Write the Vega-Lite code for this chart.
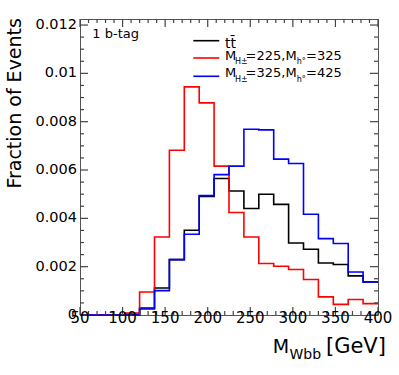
{
  "$schema": "https://vega.github.io/schema/vega-lite/v6.json",
  "width": 298,
  "height": 296,
  "autosize": {"type": "none"},
  "padding": {"left": 80, "top": 19, "right": 21, "bottom": 60},
  "config": {
    "view": {"stroke": "#555555", "strokeWidth": 1},
    "font": "DejaVu Sans",
    "text": {"font": "DejaVu Sans", "color": "#000000"}
  },
  "datasets": {
    "hist": [
      {"sample": "tt", "mass": 50, "fraction": 0},
      {"sample": "tt", "mass": 67.5, "fraction": 0},
      {"sample": "tt", "mass": 85, "fraction": 0},
      {"sample": "tt", "mass": 102.5, "fraction": 0.00003},
      {"sample": "tt", "mass": 120, "fraction": 0.00029},
      {"sample": "tt", "mass": 137.5, "fraction": 0.00112},
      {"sample": "tt", "mass": 155, "fraction": 0.00229},
      {"sample": "tt", "mass": 172.5, "fraction": 0.00351},
      {"sample": "tt", "mass": 190, "fraction": 0.00491},
      {"sample": "tt", "mass": 207.5, "fraction": 0.00565},
      {"sample": "tt", "mass": 225, "fraction": 0.00513},
      {"sample": "tt", "mass": 242.5, "fraction": 0.00441},
      {"sample": "tt", "mass": 260, "fraction": 0.005},
      {"sample": "tt", "mass": 277.5, "fraction": 0.00458},
      {"sample": "tt", "mass": 295, "fraction": 0.00298},
      {"sample": "tt", "mass": 312.5, "fraction": 0.00272},
      {"sample": "tt", "mass": 330, "fraction": 0.00215},
      {"sample": "tt", "mass": 347.5, "fraction": 0.00209},
      {"sample": "tt", "mass": 365, "fraction": 0.00162},
      {"sample": "tt", "mass": 382.5, "fraction": 0.00137},
      {"sample": "tt", "mass": 400, "fraction": 0.00137},
      {"sample": "H225_h325", "mass": 50, "fraction": 0},
      {"sample": "H225_h325", "mass": 67.5, "fraction": 0},
      {"sample": "H225_h325", "mass": 85, "fraction": 0},
      {"sample": "H225_h325", "mass": 102.5, "fraction": 0.00008},
      {"sample": "H225_h325", "mass": 120, "fraction": 0.00095},
      {"sample": "H225_h325", "mass": 137.5, "fraction": 0.00323},
      {"sample": "H225_h325", "mass": 155, "fraction": 0.00682},
      {"sample": "H225_h325", "mass": 172.5, "fraction": 0.00944},
      {"sample": "H225_h325", "mass": 190, "fraction": 0.00878},
      {"sample": "H225_h325", "mass": 207.5, "fraction": 0.00616},
      {"sample": "H225_h325", "mass": 225, "fraction": 0.00424},
      {"sample": "H225_h325", "mass": 242.5, "fraction": 0.00323},
      {"sample": "H225_h325", "mass": 260, "fraction": 0.00213},
      {"sample": "H225_h325", "mass": 277.5, "fraction": 0.00202},
      {"sample": "H225_h325", "mass": 295, "fraction": 0.00188},
      {"sample": "H225_h325", "mass": 312.5, "fraction": 0.00147},
      {"sample": "H225_h325", "mass": 330, "fraction": 0.00075},
      {"sample": "H225_h325", "mass": 347.5, "fraction": 0.00044},
      {"sample": "H225_h325", "mass": 365, "fraction": 0.00064},
      {"sample": "H225_h325", "mass": 382.5, "fraction": 0.00047},
      {"sample": "H225_h325", "mass": 400, "fraction": 0.00047},
      {"sample": "H325_h425", "mass": 50, "fraction": 0},
      {"sample": "H325_h425", "mass": 67.5, "fraction": 0},
      {"sample": "H325_h425", "mass": 85, "fraction": 0},
      {"sample": "H325_h425", "mass": 102.5, "fraction": 0},
      {"sample": "H325_h425", "mass": 120, "fraction": 0.00025},
      {"sample": "H325_h425", "mass": 137.5, "fraction": 0.00101},
      {"sample": "H325_h425", "mass": 155, "fraction": 0.00229},
      {"sample": "H325_h425", "mass": 172.5, "fraction": 0.00334},
      {"sample": "H325_h425", "mass": 190, "fraction": 0.00494},
      {"sample": "H325_h425", "mass": 207.5, "fraction": 0.00581},
      {"sample": "H325_h425", "mass": 225, "fraction": 0.00616},
      {"sample": "H325_h425", "mass": 242.5, "fraction": 0.00769},
      {"sample": "H325_h425", "mass": 260, "fraction": 0.00766},
      {"sample": "H325_h425", "mass": 277.5, "fraction": 0.00645},
      {"sample": "H325_h425", "mass": 295, "fraction": 0.00627},
      {"sample": "H325_h425", "mass": 312.5, "fraction": 0.00417},
      {"sample": "H325_h425", "mass": 330, "fraction": 0.00316},
      {"sample": "H325_h425", "mass": 347.5, "fraction": 0.00296},
      {"sample": "H325_h425", "mass": 365, "fraction": 0.00178},
      {"sample": "H325_h425", "mass": 382.5, "fraction": 0.00137},
      {"sample": "H325_h425", "mass": 400, "fraction": 0.00137}
    ],
    "xticks": [
      {"value": 50, "kind": "major"}, {"value": 60, "kind": "minor"}, {"value": 70, "kind": "minor"}, {"value": 80, "kind": "minor"}, {"value": 90, "kind": "minor"},
      {"value": 100, "kind": "major"}, {"value": 110, "kind": "minor"}, {"value": 120, "kind": "minor"}, {"value": 130, "kind": "minor"}, {"value": 140, "kind": "minor"},
      {"value": 150, "kind": "major"}, {"value": 160, "kind": "minor"}, {"value": 170, "kind": "minor"}, {"value": 180, "kind": "minor"}, {"value": 190, "kind": "minor"},
      {"value": 200, "kind": "major"}, {"value": 210, "kind": "minor"}, {"value": 220, "kind": "minor"}, {"value": 230, "kind": "minor"}, {"value": 240, "kind": "minor"},
      {"value": 250, "kind": "major"}, {"value": 260, "kind": "minor"}, {"value": 270, "kind": "minor"}, {"value": 280, "kind": "minor"}, {"value": 290, "kind": "minor"},
      {"value": 300, "kind": "major"}, {"value": 310, "kind": "minor"}, {"value": 320, "kind": "minor"}, {"value": 330, "kind": "minor"}, {"value": 340, "kind": "minor"},
      {"value": 350, "kind": "major"}, {"value": 360, "kind": "minor"}, {"value": 370, "kind": "minor"}, {"value": 380, "kind": "minor"}, {"value": 390, "kind": "minor"},
      {"value": 400, "kind": "major"}
    ],
    "yticks": [
      {"value": 0, "kind": "major"}, {"value": 0.0005, "kind": "minor"}, {"value": 0.001, "kind": "minor"}, {"value": 0.0015, "kind": "minor"},
      {"value": 0.002, "kind": "major"}, {"value": 0.0025, "kind": "minor"}, {"value": 0.003, "kind": "minor"}, {"value": 0.0035, "kind": "minor"},
      {"value": 0.004, "kind": "major"}, {"value": 0.0045, "kind": "minor"}, {"value": 0.005, "kind": "minor"}, {"value": 0.0055, "kind": "minor"},
      {"value": 0.006, "kind": "major"}, {"value": 0.0065, "kind": "minor"}, {"value": 0.007, "kind": "minor"}, {"value": 0.0075, "kind": "minor"},
      {"value": 0.008, "kind": "major"}, {"value": 0.0085, "kind": "minor"}, {"value": 0.009, "kind": "minor"}, {"value": 0.0095, "kind": "minor"},
      {"value": 0.01, "kind": "major"}, {"value": 0.0105, "kind": "minor"}, {"value": 0.011, "kind": "minor"}, {"value": 0.0115, "kind": "minor"},
      {"value": 0.012, "kind": "major"}
    ]
  },
  "data": {"name": "hist"},
  "layer": [
    {
      "mark": {"type": "line", "interpolate": "step-after", "strokeWidth": 1.6},
      "encoding": {
        "x": {"field": "mass", "type": "quantitative", "scale": {"domain": [50, 400], "nice": false, "zero": false}, "axis": null},
        "y": {"field": "fraction", "type": "quantitative", "scale": {"domain": [0, 0.01225], "nice": false, "zero": true}, "axis": null},
        "color": {
          "field": "sample", "type": "nominal",
          "scale": {"domain": ["tt", "H225_h325", "H325_h425"], "range": ["#000000", "#ff0000", "#0000ff"]},
          "legend": null
        }
      }
    },
    {
      "data": {"name": "xticks"},
      "transform": [{"filter": "datum.kind === 'major'"}],
      "mark": {"type": "tick", "orient": "vertical", "size": 8, "thickness": 1.2, "color": "#444444", "opacity": 1, "yOffset": -4},
      "encoding": {"x": {"field": "value", "type": "quantitative", "axis": null}, "y": {"datum": 0, "type": "quantitative", "axis": null}}
    },
    {
      "data": {"name": "xticks"},
      "transform": [{"filter": "datum.kind === 'minor'"}],
      "mark": {"type": "tick", "orient": "vertical", "size": 4, "thickness": 1.2, "color": "#444444", "opacity": 1, "yOffset": -2},
      "encoding": {"x": {"field": "value", "type": "quantitative", "axis": null}, "y": {"datum": 0, "type": "quantitative", "axis": null}}
    },
    {
      "data": {"name": "xticks"},
      "transform": [{"filter": "datum.kind === 'major'"}],
      "mark": {"type": "tick", "orient": "vertical", "size": 8, "thickness": 1.2, "color": "#444444", "opacity": 1, "yOffset": 4},
      "encoding": {"x": {"field": "value", "type": "quantitative", "axis": null}, "y": {"datum": 0.01225, "type": "quantitative", "axis": null}}
    },
    {
      "data": {"name": "xticks"},
      "transform": [{"filter": "datum.kind === 'minor'"}],
      "mark": {"type": "tick", "orient": "vertical", "size": 4, "thickness": 1.2, "color": "#444444", "opacity": 1, "yOffset": 2},
      "encoding": {"x": {"field": "value", "type": "quantitative", "axis": null}, "y": {"datum": 0.01225, "type": "quantitative", "axis": null}}
    },
    {
      "data": {"name": "yticks"},
      "transform": [{"filter": "datum.kind === 'major'"}],
      "mark": {"type": "tick", "orient": "horizontal", "size": 8, "thickness": 1.2, "color": "#444444", "opacity": 1, "xOffset": 4},
      "encoding": {"y": {"field": "value", "type": "quantitative", "axis": null}, "x": {"datum": 50, "type": "quantitative", "axis": null}}
    },
    {
      "data": {"name": "yticks"},
      "transform": [{"filter": "datum.kind === 'minor'"}],
      "mark": {"type": "tick", "orient": "horizontal", "size": 4, "thickness": 1.2, "color": "#444444", "opacity": 1, "xOffset": 2},
      "encoding": {"y": {"field": "value", "type": "quantitative", "axis": null}, "x": {"datum": 50, "type": "quantitative", "axis": null}}
    },
    {
      "data": {"name": "yticks"},
      "transform": [{"filter": "datum.kind === 'major'"}],
      "mark": {"type": "tick", "orient": "horizontal", "size": 8, "thickness": 1.2, "color": "#444444", "opacity": 1, "xOffset": -4},
      "encoding": {"y": {"field": "value", "type": "quantitative", "axis": null}, "x": {"datum": 400, "type": "quantitative", "axis": null}}
    },
    {
      "data": {"name": "yticks"},
      "transform": [{"filter": "datum.kind === 'minor'"}],
      "mark": {"type": "tick", "orient": "horizontal", "size": 4, "thickness": 1.2, "color": "#444444", "opacity": 1, "xOffset": -2},
      "encoding": {"y": {"field": "value", "type": "quantitative", "axis": null}, "x": {"datum": 400, "type": "quantitative", "axis": null}}
    },
    {
      "data": {"name": "xticks"},
      "transform": [{"filter": "datum.kind === 'major'"}],
      "mark": {"type": "text", "align": "center", "baseline": "top", "fontSize": 15, "dy": -4, "color": "#000000"},
      "encoding": {
        "x": {"field": "value", "type": "quantitative", "axis": null},
        "y": {"datum": 0, "type": "quantitative", "axis": null},
        "text": {"field": "value", "type": "quantitative", "format": "~g"}
      }
    },
    {
      "data": {"name": "yticks"},
      "transform": [{"filter": "datum.kind === 'major'"}],
      "mark": {"type": "text", "align": "right", "baseline": "middle", "fontSize": 14.5, "dx": -3, "color": "#000000"},
      "encoding": {
        "y": {"field": "value", "type": "quantitative", "axis": null},
        "x": {"datum": 50, "type": "quantitative", "axis": null},
        "text": {"field": "value", "type": "quantitative", "format": "~g"}
      }
    },
    {
      "data": {"values": [{}]},
      "mark": {"type": "text", "text": "Fraction of Events", "angle": 270, "align": "right", "baseline": "alphabetic", "fontSize": 19},
      "encoding": {"x": {"datum": -19.3, "type": "quantitative", "axis": null}, "y": {"datum": 0.01229, "type": "quantitative", "axis": null}}
    },
    {
      "data": {"values": [{}]},
      "mark": {"type": "text", "text": "1 b-tag", "align": "left", "baseline": "alphabetic", "fontSize": 13},
      "encoding": {"x": {"datum": 64.45, "type": "quantitative", "axis": null}, "y": {"datum": 0.011443, "type": "quantitative", "axis": null}}
    },
    {
      "data": {"values": [{}]},
      "mark": {"type": "rule", "strokeWidth": 1.6, "color": "#000000"},
      "encoding": {"x": {"datum": 183.07, "type": "quantitative", "axis": null}, "x2": {"datum": 213.6}, "y": {"datum": 0.011352, "type": "quantitative", "axis": null}}
    },
    {
      "data": {"values": [{}]},
      "mark": {"type": "rule", "strokeWidth": 1.6, "color": "#ff0000"},
      "encoding": {"x": {"datum": 183.07, "type": "quantitative", "axis": null}, "x2": {"datum": 213.6}, "y": {"datum": 0.010636, "type": "quantitative", "axis": null}}
    },
    {
      "data": {"values": [{}]},
      "mark": {"type": "rule", "strokeWidth": 1.6, "color": "#0000ff"},
      "encoding": {"x": {"datum": 183.07, "type": "quantitative", "axis": null}, "x2": {"datum": 213.6}, "y": {"datum": 0.009879, "type": "quantitative", "axis": null}}
    },
    {
      "data": {"values": [{}]},
      "mark": {"type": "text", "text": "tt̄", "align": "left", "baseline": "alphabetic", "fontSize": 14},
      "encoding": {"x": {"datum": 220.3, "type": "quantitative", "axis": null}, "y": {"datum": 0.011037, "type": "quantitative", "axis": null}}
    },
    {
      "data": {"values": [{}]},
      "mark": {"type": "text", "text": "M", "align": "left", "baseline": "alphabetic", "fontSize": 13},
      "encoding": {"x": {"datum": 220.3, "type": "quantitative", "axis": null}, "y": {"datum": 0.010562, "type": "quantitative", "axis": null}}
    },
    {
      "data": {"values": [{}]},
      "mark": {"type": "text", "text": "H±", "align": "left", "baseline": "alphabetic", "fontSize": 8},
      "encoding": {"x": {"datum": 232.05, "type": "quantitative", "axis": null}, "y": {"datum": 0.010388, "type": "quantitative", "axis": null}}
    },
    {
      "data": {"values": [{}]},
      "mark": {"type": "text", "text": "=225,", "align": "left", "baseline": "alphabetic", "fontSize": 13},
      "encoding": {"x": {"datum": 244.5, "type": "quantitative", "axis": null}, "y": {"datum": 0.010562, "type": "quantitative", "axis": null}}
    },
    {
      "data": {"values": [{}]},
      "mark": {"type": "text", "text": "M", "align": "left", "baseline": "alphabetic", "fontSize": 13},
      "encoding": {"x": {"datum": 291.5, "type": "quantitative", "axis": null}, "y": {"datum": 0.010562, "type": "quantitative", "axis": null}}
    },
    {
      "data": {"values": [{}]},
      "mark": {"type": "text", "text": "h°", "align": "left", "baseline": "alphabetic", "fontSize": 8},
      "encoding": {"x": {"datum": 304.5, "type": "quantitative", "axis": null}, "y": {"datum": 0.010388, "type": "quantitative", "axis": null}}
    },
    {
      "data": {"values": [{}]},
      "mark": {"type": "text", "text": "=325", "align": "left", "baseline": "alphabetic", "fontSize": 13},
      "encoding": {"x": {"datum": 315.5, "type": "quantitative", "axis": null}, "y": {"datum": 0.010562, "type": "quantitative", "axis": null}}
    },
    {
      "data": {"values": [{}]},
      "mark": {"type": "text", "text": "M", "align": "left", "baseline": "alphabetic", "fontSize": 13},
      "encoding": {"x": {"datum": 220.3, "type": "quantitative", "axis": null}, "y": {"datum": 0.009829, "type": "quantitative", "axis": null}}
    },
    {
      "data": {"values": [{}]},
      "mark": {"type": "text", "text": "H±", "align": "left", "baseline": "alphabetic", "fontSize": 8},
      "encoding": {"x": {"datum": 232.05, "type": "quantitative", "axis": null}, "y": {"datum": 0.009655, "type": "quantitative", "axis": null}}
    },
    {
      "data": {"values": [{}]},
      "mark": {"type": "text", "text": "=325,", "align": "left", "baseline": "alphabetic", "fontSize": 13},
      "encoding": {"x": {"datum": 244.5, "type": "quantitative", "axis": null}, "y": {"datum": 0.009829, "type": "quantitative", "axis": null}}
    },
    {
      "data": {"values": [{}]},
      "mark": {"type": "text", "text": "M", "align": "left", "baseline": "alphabetic", "fontSize": 13},
      "encoding": {"x": {"datum": 291.5, "type": "quantitative", "axis": null}, "y": {"datum": 0.009829, "type": "quantitative", "axis": null}}
    },
    {
      "data": {"values": [{}]},
      "mark": {"type": "text", "text": "h°", "align": "left", "baseline": "alphabetic", "fontSize": 8},
      "encoding": {"x": {"datum": 304.5, "type": "quantitative", "axis": null}, "y": {"datum": 0.009655, "type": "quantitative", "axis": null}}
    },
    {
      "data": {"values": [{}]},
      "mark": {"type": "text", "text": "=425", "align": "left", "baseline": "alphabetic", "fontSize": 13},
      "encoding": {"x": {"datum": 315.5, "type": "quantitative", "axis": null}, "y": {"datum": 0.009829, "type": "quantitative", "axis": null}}
    },
    {
      "data": {"values": [{}]},
      "mark": {"type": "text", "text": "M", "align": "left", "baseline": "alphabetic", "fontSize": 19, "dy": 38},
      "encoding": {"x": {"datum": 276.3, "type": "quantitative", "axis": null}, "y": {"datum": 0, "type": "quantitative", "axis": null}}
    },
    {
      "data": {"values": [{}]},
      "mark": {"type": "text", "text": "Wbb", "align": "left", "baseline": "alphabetic", "fontSize": 14, "dy": 44},
      "encoding": {"x": {"datum": 296, "type": "quantitative", "axis": null}, "y": {"datum": 0, "type": "quantitative", "axis": null}}
    },
    {
      "data": {"values": [{}]},
      "mark": {"type": "text", "text": "[GeV]", "align": "left", "baseline": "alphabetic", "fontSize": 21, "dy": 38},
      "encoding": {"x": {"datum": 338.9, "type": "quantitative", "axis": null}, "y": {"datum": 0, "type": "quantitative", "axis": null}}
    }
  ]
}
